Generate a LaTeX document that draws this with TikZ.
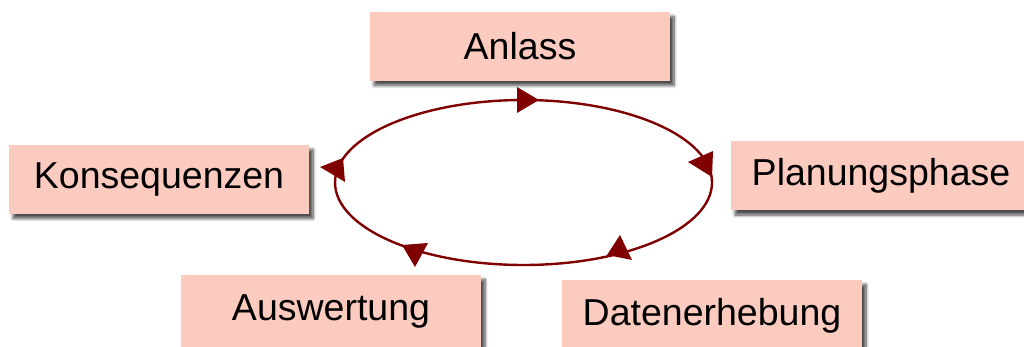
\documentclass[tikz,border=0pt]{standalone}
\usepackage{fontspec}
\setmainfont{Liberation Sans}
\usetikzlibrary{shadows.blur}
\definecolor{boxfill}{RGB}{251,203,192}
\definecolor{cyclered}{RGB}{128,0,0}
\tikzset{
  phase/.style={rectangle, fill=boxfill, minimum width=300pt, minimum height=69pt,
    inner sep=0pt, font=\fontsize{37.5}{41}\selectfont,
    blur shadow={shadow xshift=4pt, shadow yshift=-4.5pt, shadow blur steps=8,
      shadow blur radius=3pt, shadow opacity=70}},
  cycle/.style={draw=cyclered, line width=2.4pt},
  tiphead/.style={fill=cyclered}
}
\begin{document}
\begin{tikzpicture}[x=1pt, y=-1pt]
  \useasboundingbox (0,0) rectangle (1024,347);
  \clip (0,0) rectangle (1024,347);

  % the five phases
  \node[phase] (anlass)   at (520,46.5)  {Anlass};
  \node[phase] (plan)     at (881,176)   {Planungsphase};
  \node[phase, minimum height=72pt] (daten) at (712,316) {Datenerhebung};
  \node[phase, minimum height=72pt] (ausw)  at (331,311) {Auswertung};
  \node[phase] (kons)     at (159,179.5) {Konsequenzen};

  % the cycle
  \coordinate (mid) at (523.5,182.5);
  \draw[cycle] (mid) ellipse [x radius=188.5, y radius=82.5];

  % arrowheads along the cycle
  \fill[tiphead] (517,87)  -- (539,100) -- (517,113) -- cycle;
  \fill[tiphead] (713,151) -- (688,162) -- (712,177) -- cycle;
  \fill[tiphead] (607,255) -- (620,235) -- (632,260) -- cycle;
  \fill[tiphead] (402,245) -- (415,267) -- (428,243) -- cycle;
  \fill[tiphead] (343,158) -- (320,167) -- (345,182) -- cycle;
\end{tikzpicture}
\end{document}
